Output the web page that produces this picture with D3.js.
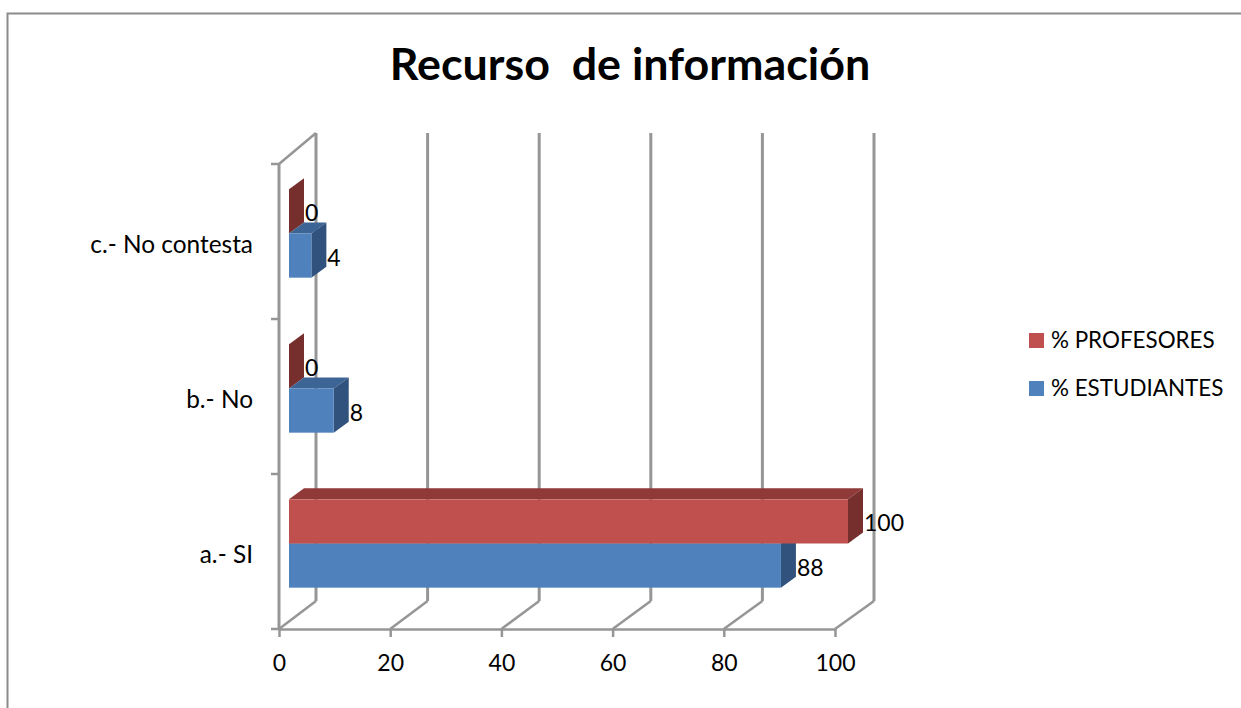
<!DOCTYPE html>
<html>
<head>
<meta charset="utf-8">
<script src="https://cdnjs.cloudflare.com/ajax/libs/d3/7.8.5/d3.min.js"></script>
<style>
  html, body { margin: 0; padding: 0; background: #fff; }
  svg { display: block; }
  text { font-family: Lato, "Open Sans", sans-serif; fill: #000; }
</style>
</head>
<body>
<div id="plot"></div>
<script>
// Chart data
const categories = ["a.- SI", "b.- No", "c.- No contesta"];
const seriesNames = ["% ESTUDIANTES", "% PROFESORES"];
const estudiantes = [88, 8, 4];
const profesores = [100, 0, 0];
const xTicks = [0, 20, 40, 60, 80, 100];

const width = 1241, height = 708;

const svg = d3.select("#plot").append("svg")
  .attr("width", width)
  .attr("height", height);

// Colours per series: front, top, side
const colors = {
  "% ESTUDIANTES": { front: "#4F81BD", top: "#3C6494", side: "#30527D" },
  "% PROFESORES": { front: "#C0504D", top: "#8F3A38", side: "#772F2D" }
};
const gridColor = "#969696";

// Scales: front edge of floor, back wall, and the bars which sit between them
const xFront = d3.scaleLinear().domain([0, 100]).range([279, 835]);
const xBack = d3.scaleLinear().domain([0, 100]).range([316, 874]);
const xBar = d3.scaleLinear().domain([0, 100]).range([289, 848]);
const y = d3.scaleBand().domain(categories).range([629, 164]).paddingInner(0.43).paddingOuter(0.215);
const ySeries = d3.scaleBand().domain(seriesNames).range([y.bandwidth(), 0]);

const wallBottom = 601, wallTop = 133;
const frontTop = y.range()[1], frontBottom = y.range()[0];
const barShiftY = -8;        // bars sit a little into the depth
const depthX = 15, depthY = -11;  // bar's own depth

// Outer frame (chart is cropped on the right and bottom)
svg.append("path")
  .attr("d", `M7.5,708V13.5H1241`)
  .attr("fill", "none")
  .attr("stroke", "#8c8c8c")
  .attr("stroke-width", 2);

// Title
svg.append("text")
  .attr("x", 630)
  .attr("y", 80)
  .attr("text-anchor", "middle")
  .attr("xml:space", "preserve")
  .style("white-space", "pre")
  .style("font-size", "44.8px")
  .style("font-weight", "bold")
  .text("Recurso  de información");

// Back wall vertical lines
const walls = svg.append("g").attr("stroke", gridColor).attr("fill", "none");
walls.selectAll(".wall")
  .data(xTicks)
  .enter()
  .append("line")
  .attr("class", "wall")
  .attr("x1", d => xBack(d))
  .attr("x2", d => xBack(d))
  .attr("y1", wallTop)
  .attr("y2", wallBottom)
  .attr("stroke-width", 3);

// Floor diagonals
walls.selectAll(".floor")
  .data(xTicks)
  .enter()
  .append("line")
  .attr("class", "floor")
  .attr("x1", d => xFront(d))
  .attr("x2", d => xBack(d))
  .attr("y1", frontBottom)
  .attr("y2", wallBottom)
  .attr("stroke-width", 2.5);

// Left wall: front edge and top diagonal
walls.append("line")
  .attr("x1", xFront(0)).attr("x2", xFront(0))
  .attr("y1", frontTop).attr("y2", frontBottom)
  .attr("stroke-width", 3);
walls.append("line")
  .attr("x1", xFront(0)).attr("x2", xBack(0))
  .attr("y1", frontTop).attr("y2", wallTop)
  .attr("stroke-width", 2.5);

// Category boundary ticks
const catEdges = [0, 1, 2, 3].map(i => frontBottom - i * y.step());
walls.selectAll(".cat-tick")
  .data(catEdges)
  .enter()
  .append("line")
  .attr("class", "cat-tick")
  .attr("x1", xFront(0) - 8)
  .attr("x2", xFront(0))
  .attr("y1", d => d)
  .attr("y2", d => d)
  .attr("stroke-width", 2.5);

// X axis
const xAxis = svg.append("g")
  .attr("transform", `translate(0,${frontBottom})`)
  .call(d3.axisBottom(xFront).tickValues(xTicks).tickSize(8).tickPadding(18).tickSizeOuter(0));
xAxis.select(".domain").attr("stroke", gridColor).attr("stroke-width", 2.5);
xAxis.selectAll(".tick line").attr("stroke", gridColor).attr("stroke-width", 2.5);
xAxis.selectAll("text").style("font-size", "23px").style("font-family", "Lato");

// Y axis labels
const yAxis = svg.append("g")
  .attr("transform", `translate(${xFront(0)},4)`)
  .call(d3.axisLeft(y).tickSize(0).tickPadding(26));
yAxis.select(".domain").remove();
yAxis.selectAll("text").style("font-size", "24.4px").style("font-family", "Lato");

// Bars: per category the shorter bar goes first so the longer one covers it
const barData = [];
categories.slice().reverse().forEach(cat => {
  const i = categories.indexOf(cat);
  const pair = [
    { cat, series: seriesNames[0], value: estudiantes[i] },
    { cat, series: seriesNames[1], value: profesores[i] }
  ];
  pair.sort((a, b) => a.value - b.value);
  barData.push(...pair);
});

svg.selectAll(".bar")
  .data(barData)
  .enter()
  .append("g")
  .attr("class", "bar")
  .each(function (d) {
    const g = d3.select(this);
    const c = colors[d.series];
    const x0 = xBar(0), x1 = xBar(d.value);
    const yTop = y(d.cat) + ySeries(d.series) + barShiftY;
    const yBot = yTop + ySeries.bandwidth();

    // top face
    g.append("path")
      .attr("d", `M${x0},${yTop}L${x0 + depthX},${yTop + depthY}L${x1 + depthX},${yTop + depthY}L${x1},${yTop}Z`)
      .attr("fill", c.top);
    // side face (for zero values this is the thin flat plate)
    g.append("path")
      .attr("d", `M${x1},${yTop}L${x1 + depthX},${yTop + depthY}L${x1 + depthX},${yBot + depthY}L${x1},${yBot}Z`)
      .attr("fill", c.side);
    // front face
    if (d.value > 0) {
      g.append("rect")
        .attr("x", x0)
        .attr("y", yTop)
        .attr("width", x1 - x0)
        .attr("height", yBot - yTop)
        .attr("fill", c.front);
    }
  });

// Value labels
svg.selectAll(".value-label")
  .data(barData)
  .enter()
  .append("text")
  .attr("class", "value-label")
  .attr("x", d => xBar(d.value) + depthX + 1)
  .attr("y", d => y(d.cat) + ySeries(d.series) + barShiftY + ySeries.bandwidth() / 2 + 10)
  .style("font-size", "23px")
  .text(d => d.value);

// Legend
const legend = svg.selectAll(".legend-item")
  .data(seriesNames.slice().reverse())
  .enter()
  .append("g")
  .attr("class", "legend-item")
  .attr("transform", (d, i) => `translate(1029,${333 + i * 48})`);

legend.append("rect")
  .attr("width", 15)
  .attr("height", 15)
  .attr("fill", d => colors[d].front);

legend.append("text")
  .attr("x", 22)
  .attr("y", 15)
  .style("font-size", "22.4px")
  .text(d => d);
</script>
</body>
</html>
